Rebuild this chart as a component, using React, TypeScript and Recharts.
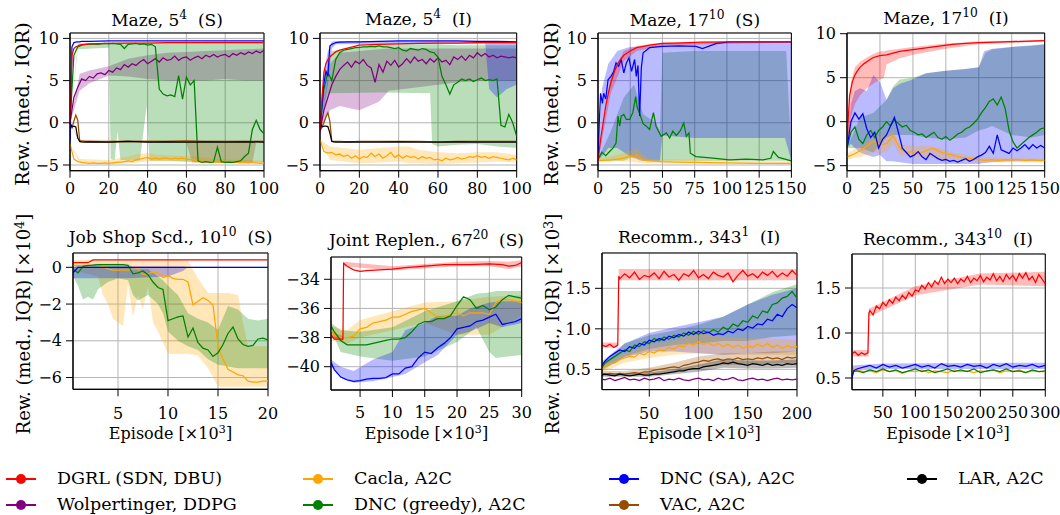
import React from 'react';
import { ComposedChart, Line, Area, XAxis, YAxis, CartesianGrid, ReferenceArea } from 'recharts';

const FONT = '"DejaVu Serif", "DejaVu Sans", sans-serif';
const RED = '#ff0000', PURPLE = '#800080', ORANGE = '#ffa500', GREEN = '#008000', BLUE = '#0000ff', BROWN = '#994c00', BLACK = '#000000';

const xStep2 = [0,2,4,6,8,10,12,14,16,18,20,22,24,26,28,30,32,34,36,38,40,42,44,46,48,50,52,54,56,58,60,62,64,66,68,70,72,74,76,78,80,82,84,86,88,90,92,94,96,98,100];
const xStep3 = [0,3,6,9,12,15,18,21,24,27,30,33,36,39,42,45,48,51,54,57,60,63,66,69,72,75,78,81,84,87,90,93,96,99,102,105,108,111,114,117,120,123,126,129,132,135,138,141,144,147,150];

const p1xA = [0,1,2,3,4,5,6,8,10,20,30,40,50,60,70,80,90,100];
const p1Red = [0,8.0,8.8,9.0,9.1,9.2,9.25,9.3,9.35,9.4,9.45,9.45,9.5,9.5,9.5,9.5,9.5,9.5];
const p1Blue = [-2.2,9.0,9.5,9.55,9.6,9.6,9.65,9.65,9.65,9.7,9.7,9.7,9.7,9.7,9.7,9.7,9.7,9.7];
const p1Black = [0,-0.5,-0.4,-0.5,-1.8,-2.2,-2.25,-2.3,-2.25,-2.3,-2.2,-2.3,-2.25,-2.3,-2.25,-2.3,-2.25,-2.3];
const p1Brown = [0,-0.6,0.2,0.9,0.3,-2.1,-2.15,-2.2,-2.2,-2.25,-2.2,-2.2,-2.2,-2.15,-2.2,-2.2,-2.2,-2.2];
const p1Purple = [0,3.0,4.2,5.2,5.0,5.5,5.3,5.8,5.9,5.7,6.2,6.0,6.5,6.3,6.9,6.6,7.0,6.8,7.2,7.5,7.0,7.3,7.6,7.2,7.7,7.4,7.5,7.9,7.4,7.7,7.8,7.4,7.7,7.9,7.6,8.0,7.8,8.1,7.8,8.0,8.1,7.8,8.2,8.0,8.3,8.1,8.4,8.2,8.5,8.3,8.6];
const p1Green = [0,8.0,9.0,9.2,9.3,9.3,9.35,9.3,9.35,9.4,9.35,9.4,9.35,9.3,8.8,9.3,9.35,9.4,9.3,9.35,9.2,9.3,9.0,4.0,3.4,3.2,3.3,3.1,5.6,2.8,5.4,4.5,5.0,-4.5,-4.7,-4.6,-4.7,-4.65,-2.9,-4.6,-4.7,-4.65,-4.7,-4.6,-4.5,-4.0,-3.6,-0.8,0.3,-0.8,-1.3];
const p1Orange = [-2.5,-4.3,-4.6,-4.7,-4.75,-4.8,-4.75,-4.8,-4.8,-4.75,-4.8,-4.75,-4.7,-4.65,-4.6,-4.5,-4.6,-4.4,-4.3,-4.2,-4.1,-4.3,-4.2,-4.3,-4.2,-4.2,-4.3,-4.2,-4.25,-4.2,-4.3,-4.35,-4.4,-4.5,-4.55,-4.6,-4.65,-4.6,-4.65,-4.7,-4.7,-4.65,-4.7,-4.7,-4.75,-4.7,-4.75,-4.7,-4.75,-4.8,-4.75];
const p1PurpleBX = [0,5,10,20,30,40,50,60,70,80,90,100];
const p1PurpleLo = [0,3.8,4.7,5.6,5.5,5.2,5.0,5.0,5.0,5.2,5.0,5.0];
const p1PurpleHi = [0,5.8,6.2,6.7,7.6,8.0,8.3,8.4,8.5,8.6,8.7,8.8];
const p1GreenBX = [0,4,20,21,23,24.5,26,36,39.5,41,50,60,70,80,90,100];
const p1GreenLo = [0,8.7,8.9,-4.3,-4.4,-1.0,-4.4,-4.5,2.0,-4.5,-4.5,-4.6,-4.7,-4.7,-4.7,-4.7];
const p1GreenHi = [0,9.4,9.5,9.5,9.5,9.5,9.5,9.5,9.5,9.5,9.5,9.5,9.6,9.6,9.6,9.6];
const p1OrangeBX = [0,5,20,30,35,40,45,55,65,75,100];
const p1OrangeLo = [-2.5,-4.8,-4.9,-4.8,-4.7,-4.6,-4.6,-4.6,-4.7,-4.8,-4.8];
const p1OrangeHi = [-2.5,-4.3,-4.4,-4.0,-3.7,-3.6,-3.8,-3.9,-4.0,-4.3,-4.5];
const p1BrownBX = [0,5,60,63,94,96,100];
const p1BrownLo = [0,-2.4,-2.4,-4.7,-4.7,-2.4,-2.4];
const p1BrownHi = [0,-2.0,-2.1,-2.1,-2.1,-2.1,-2.1];

const p2xA = [0,1,2,3,4,5,6,7,8,10,15,20,30,40,50,60,70,80,90,100];
const p2Blue = [-1,2,4.7,6.1,5.5,9.1,9.3,9.4,9.5,9.55,9.6,9.6,9.65,9.7,9.7,9.7,9.7,9.65,9.65,9.6];
const p2Red = [-1,3,6,7,7.5,7.8,8.0,8.2,8.4,8.6,8.9,9.2,9.3,9.35,9.4,9.45,9.45,9.5,9.5,9.5];
const p2Black = [0,-0.5,-0.4,-0.4,-0.45,-1.2,-2.2,-2.25,-2.3,-2.3,-2.25,-2.3,-2.3,-2.25,-2.3,-2.3,-2.25,-2.3,-2.3,-2.3];
const p2Brown = [-1,-0.5,0,0.7,1.2,0.2,-2.2,-2.2,-2.2,-2.2,-2.25,-2.2,-2.2,-2.2,-2.2,-2.25,-2.2,-2.2,-2.2,-2.2];
const p2Purple = [-1,1.5,3.0,4.5,5.5,6.3,6.8,7.2,6.6,7.3,7.0,7.5,6.8,6.5,4.8,6.9,6.0,7.3,6.8,7.4,6.6,7.0,7.6,7.1,7.8,7.3,7.5,7.0,7.6,7.2,7.7,7.2,7.4,6.9,7.8,7.5,7.9,7.4,8.0,7.7,8.3,7.9,8.2,7.8,8.0,7.7,7.9,7.8,7.7,7.8,7.7];
const p2Green = [-0.5,4.0,6.0,5.0,7.5,8.3,8.6,8.7,8.8,8.9,8.95,9.0,9.0,9.05,9.0,9.1,9.0,9.0,8.9,8.8,8.9,8.6,8.5,8.8,8.7,8.6,8.8,8.7,8.4,8.3,7.8,5.5,4.5,3.4,4.5,4.8,5.2,5.0,5.2,4.9,5.1,5.3,5.0,5.1,5.0,5.2,-0.3,-0.5,1.0,0.0,-1.6];
const p2Orange = [-2,-3.4,-3.6,-3.5,-3.8,-3.7,-4.0,-3.8,-4.2,-3.9,-4.3,-4.0,-4.1,-3.6,-4.0,-3.7,-4.2,-3.9,-3.5,-4.1,-3.8,-4.2,-3.9,-4.1,-4.0,-4.3,-4.0,-4.2,-4.1,-4.4,-4.3,-4.5,-4.2,-4.4,-4.3,-4.1,-4.3,-4.2,-4.0,-4.1,-3.9,-4.1,-4.0,-4.2,-4.0,-4.1,-4.2,-4.3,-4.4,-4.2,-4.4];
const p2PurpleBX = [0,5,10,20,30,35,50,70,85,100];
const p2PurpleLo = [-1,1.5,2.0,1.5,2.5,3.8,4.2,4.8,5.0,5.0];
const p2PurpleHi = [-1,7.0,8.3,8.5,8.7,8.8,8.8,8.8,8.8,8.8];
const p2GreenBX = [0,4,6,30,32,56,57,60,70,80,90,100];
const p2GreenLo = [-0.5,3.5,3.5,3.6,3.6,3.5,-2.5,-2.8,-2.6,-2.5,-2.8,-3.0];
const p2GreenHi = [-0.5,7.5,8.5,9.3,9.3,9.3,9.3,9.3,9.2,9.2,9.2,9.2];
const p2BlueBX = [0,2,4,6,8,84,86,90,95,100];
const p2BlueLo = [-1,2,4.5,8.8,9.3,9.4,4.0,3.0,4.0,4.5];
const p2BlueHi = [-1,6,8.5,9.6,9.7,9.7,9.7,9.7,9.7,9.7];
const p2OrangeBX = [0,5,20,30,40,45,50,60,70,80,90,100];
const p2OrangeLo = [-2,-4.4,-4.8,-4.7,-4.6,-4.8,-4.8,-4.9,-4.8,-4.7,-4.6,-4.7];
const p2OrangeHi = [-2,-2.8,-3.2,-3.0,-2.8,-2.8,-3.2,-3.5,-3.6,-3.5,-3.5,-3.8];

const p3RedX = [0,2,4,6,8,10,13,16,20,25,30,40,50,60,80,100,125,150];
const p3Red = [-4.5,-2,0,2,3.5,4.8,6.2,7.2,8.0,8.5,8.9,9.2,9.4,9.45,9.55,9.6,9.6,9.6];
const p3BlueX = [0,1,2,3.4,4.4,6,7.8,10,12,14,16,18,20,22,24,26,28.4,29.7,31,32.3,33.6,35,40,50,63,76,81,92,102,150];
const p3Blue = [-4.5,0,3.5,2.3,3.5,2.8,5.1,5.5,6.0,7.1,6.7,7.5,5.9,7.1,7.7,6.1,7.5,5.5,6.8,0.8,6.5,8.3,8.9,9.05,9.1,9.05,8.8,9.4,9.6,9.6];
const p3GreenX = [0,3,6,9,11.6,14,15.5,16.8,18,20,22,24.6,27,29.2,30.3,32.3,35,37.5,40,43,45,49,53,55.6,58,60.8,64,66.5,68.5,70.6,71.6,76,89,102,115,128,134,136,140,145,150];
const p3Green = [-4.3,-3.5,-3.9,-3.4,-3.0,-2.4,0.8,-0.4,0.8,1.0,0.4,0.4,1.2,3.1,1.9,1.1,-0.1,-0.4,-0.8,1.2,-0.4,-1.6,-1.2,-1.8,-1.0,-1.5,-0.9,0.0,-1.6,-1.2,-3.6,-4.0,-4.2,-4.4,-4.3,-4.4,-4.2,-3.4,-4.1,-4.3,-4.5];
const p3OrangeX = [0,10,15,20,25,28,30,33,35,40,50,60,75,100,125,150];
const p3Orange = [-4.5,-4.4,-4.3,-4.2,-3.9,-4.1,-3.8,-4.2,-4.4,-4.5,-4.6,-4.65,-4.7,-4.75,-4.8,-4.8];
const p3BlueBX = [0,3,8,15,25,33,48,50,75,100,145,150];
const p3BlueLo = [-4.5,-4,-3,-3,-4,-4.5,-4.5,-1.5,-1.8,-1.8,-1.8,-4.5];
const p3BlueHi = [-4.5,4,7,8.5,9,9,9.3,9.4,9.5,9.6,9.6,9.6];
const p3GreenBX = [0,10,20,28,35,45,48,50,75,100,146,150];
const p3GreenLo = [-4.5,-4.5,-4.5,-4.0,-4.5,-4.5,-4.5,-4.5,-4.5,-4.5,-4.5,-4.6];
const p3GreenHi = [-4.3,-1.0,3.0,4.5,1.0,0.0,-1.0,8.3,8.5,8.5,8.5,-4.0];
const p3OrangeBX = [0,15,25,30,35,40,150];
const p3OrangeLo = [-4.6,-4.6,-4.6,-4.7,-4.8,-4.8,-4.9];
const p3OrangeHi = [-4.3,-3.8,-3.3,-3.0,-3.8,-4.3,-4.6];
const p3RedBX = [0,10,20,30,50,150];
const p3RedLo = [-4.5,3.5,7.3,8.5,9.2,9.5];
const p3RedHi = [-4.5,5.5,8.5,9.1,9.5,9.65];

const p4Blue = [-3.0,0.0,1.0,0.3,0.9,-0.8,-1.8,-1.2,-3.0,-2.0,-1.5,-0.5,0.5,-1.2,-3.0,-3.5,-4.0,-3.8,-3.4,-4.0,-4.3,-3.6,-3.9,-4.2,-4.4,-4.3,-4.5,-4.4,-4.6,-4.4,-4.2,-4.5,-4.3,-4.0,-3.8,-3.5,-2.8,-3.6,-1.5,-3.2,-3.4,-3.6,-3.0,-3.3,-3.0,-2.6,-3.1,-2.6,-3.0,-2.7,-3.0];
const p4Green = [-3.0,-1.2,-0.6,-2.0,-2.5,-1.5,-1.0,-1.8,-1.0,-0.6,0.0,-0.5,0.2,-0.2,-0.6,-0.4,-1.0,-1.2,-1.5,-1.4,-1.8,-1.5,-1.2,-1.8,-2.0,-1.7,-2.1,-1.8,-1.4,-1.2,-0.8,-0.6,-0.2,0.3,1.0,1.6,2.3,2.6,1.9,2.8,1.5,-1.0,-2.3,-3.0,-2.6,-2.2,-1.8,-1.5,-1.2,-0.8,-0.7];
const p4OrangeX = [0,5,10,15,20,25,30,35,40,45,50,55,60,65,70,75,80,85,90,95,100,105,110,115,120,125,130,135,140,145,150];
const p4Orange = [-4.0,-3.7,-3.3,-2.8,-2.2,-2.6,-2.5,-1.6,-3.0,-3.5,-3.4,-3.6,-3.3,-3.0,-3.4,-3.6,-3.8,-4.0,-4.1,-4.2,-4.3,-4.4,-4.3,-4.4,-4.3,-4.35,-4.3,-4.4,-4.35,-4.4,-4.4];
const p4RedX = [0,1,2,4,6,8,10,13,17,20,25,30,35,40,50,60,70,80,90,100,125,150];
const p4Red = [-3.0,0.5,3.0,4.5,5.3,5.8,6.2,6.6,7.0,7.3,7.5,7.6,7.8,8.0,8.2,8.4,8.6,8.8,8.9,9.0,9.1,9.2];
const p4RedBX = [0,3,6,10,15,20,25,28,30,40,50,75,100,150];
const p4RedLo = [-3,0.5,2.0,3.0,3.8,4.3,4.8,5.0,6.5,7.2,7.6,8.3,8.8,9.1];
const p4RedHi = [-3,4.5,6.2,6.8,7.3,7.7,8.0,8.0,8.1,8.3,8.5,8.9,9.1,9.3];
const p4BlueBX = [0,3,6,10,15,20,25,30,35,40,50,60,75,90,100,104,110,125,140,150];
const p4BlueLo = [-3,-2.5,-3.0,-3.5,-3.8,-4.0,-3.8,-4.5,-4.5,-4.6,-4.8,-4.8,-4.8,-4.8,-4.8,-4.7,-4.6,-4.5,-4.5,-4.5];
const p4BlueHi = [-3,2.0,3.5,3.8,3.5,5.3,4.5,2.5,3.8,4.3,4.8,5.5,5.8,6.0,6.2,8.0,8.3,8.5,8.7,8.8];
const p4GreenBX = [0,10,20,30,35,40,50,60,75,90,100,105,110,125,140,150];
const p4GreenLo = [-3,-3.0,-3.5,-1.8,-1.5,-1.5,-1.5,-1.8,-2.0,-1.8,-1.0,-0.8,-0.5,-1.5,-1.8,-1.5];
const p4GreenHi = [-3,0.5,1.0,2.5,4.0,4.8,5.0,5.5,5.8,6.0,6.2,7.8,8.2,8.5,8.6,8.8];
const p4OrangeBX = [0,10,20,30,35,40,50,60,70,80,100,150];
const p4OrangeLo = [-4.3,-4.0,-3.5,-3.5,-2.5,-3.8,-4.0,-4.0,-4.2,-4.3,-4.6,-4.6];
const p4OrangeHi = [-3.6,-2.8,-1.8,-1.5,-1.0,-2.5,-2.8,-2.7,-3.0,-3.5,-4.0,-4.2];

const p5X = [0.5,1,1.5,2,2.5,3,3.5,4,4.5,5,5.5,6,6.5,7,7.5,8,8.5,9,9.5,10,10.5,11,11.5,12,12.5,13,13.5,14,14.5,15,15.5,16,16.5,17,17.5,18,18.5,19,19.5,20];
const p5Green = [-0.1,-0.3,0.05,0.1,0.12,0.15,0.15,0.15,0.15,0.15,0.15,0.1,-0.35,-0.3,-0.2,-0.4,-0.8,-1.1,-1.2,-2.9,-2.8,-2.7,-2.65,-3.8,-3.3,-4.1,-4.4,-4.5,-4.85,-4.65,-4.2,-3.6,-3.25,-3.9,-4.2,-4.3,-4.25,-3.9,-3.85,-3.95];
const p5Orange = [0.1,0.1,0.1,0.1,0.1,0.1,0.05,-0.1,-0.15,-0.15,-0.15,-0.15,-0.1,-0.1,-0.4,-0.35,-0.25,-0.3,-0.55,-0.45,-0.6,-0.65,-0.65,-0.8,-2.05,-1.85,-1.65,-1.8,-2.05,-4.3,-5.0,-5.55,-5.7,-5.85,-5.9,-6.2,-6.25,-6.25,-6.2,-6.2];
const p5RedX = [0.5,2,2.5,20];
const p5Red = [0.25,0.25,0.4,0.4];
const p5BlueX = [0.5,1,20];
const p5Blue = [-0.3,0,0];
const p5OrangeBX = [0.5,1.5,3,3.5,4,4.5,5,5.5,6,6.5,7,7.5,8,8.5,9,10,11,12,13,14,14.5,15,16,17,17.5,18,20];
const p5OrangeLo = [-0.2,-0.3,-0.5,-1.5,-2.0,-2.8,-3.0,-3.2,-0.9,-2.7,-1.5,-2.3,-1.0,-3.0,-3.5,-4.7,-4.7,-4.7,-4.8,-5.5,-6.0,-6.5,-6.5,-6.5,-6.5,-6.5,-6.5];
const p5OrangeHi = [0.4,0.4,0.4,0.4,0.4,0.4,0.4,0.4,0.4,0.4,0.4,0.4,0.4,0.4,0.4,0.4,0.4,0.35,-0.6,-1.4,-1.4,-1.4,-1.4,-1.5,-3.0,-4.3,-4.3];
const p5GreenBX = [0.5,1,1.5,2,2.5,3,4,5,6,6.5,7,8,9,9.5,10,11,12,13,14,15,16,17,18,19,20];
const p5GreenLo = [-0.5,-1.0,-1.75,-1.6,-1.75,-1.2,-0.8,-0.6,-0.7,-1.5,-1.8,-1.5,-2.0,-2.5,-3.5,-4.0,-4.3,-4.5,-5.0,-5.3,-5.4,-5.5,-5.5,-5.5,-5.5];
const p5GreenHi = [0.0,0.1,0.1,0.1,0.2,0.2,0.2,0.2,0.2,0.0,-0.1,-0.1,-0.5,-0.7,-1.0,-1.5,-2.5,-2.8,-3.0,-3.4,-2.1,-2.3,-2.8,-2.9,-2.8];
const p5BlueBX = [0.5,1,6,10,11.5,12];
const p5BlueLo = [-0.6,-0.6,-0.6,-0.5,-0.2,0];
const p5BlueHi = [0,0.05,0.05,0.05,0.05,0];

const p6X = [0.5,1,2,3,4,5,6,7,8,9,10,11,12,13,14,15,16,17,18,19,20,21,22,23,24,25,26,27,28,29,30];
const p6RedX = [0.5,1,2,2.35,2.45,3,4,5,6,8,10,12,15,18,20,22,25,27,28,29,30];
const p6Red = [-37.8,-38.1,-38.1,-38.1,-32.9,-33.1,-33.35,-33.45,-33.4,-33.35,-33.3,-33.2,-33.1,-33.0,-33.0,-33.0,-32.95,-33.0,-33.1,-33.05,-32.85];
const p6Orange = [-37.5,-37.8,-38.0,-38.0,-37.9,-37.4,-37.3,-37.0,-36.9,-36.8,-36.6,-36.6,-36.4,-36.2,-36.1,-36.0,-36.3,-36.6,-36.6,-36.4,-36.3,-36.5,-36.3,-36.3,-36.3,-36.4,-35.6,-35.4,-35.4,-35.5,-35.6];
const p6Green = [-37.2,-37.6,-38.2,-38.5,-38.5,-38.5,-38.5,-38.4,-38.3,-38.2,-38.1,-38.1,-38.0,-37.6,-37.1,-36.9,-36.9,-36.7,-36.7,-36.5,-35.8,-35.2,-35.4,-36.0,-35.8,-36.1,-35.9,-35.4,-35.1,-35.2,-35.3];
const p6Blue = [-39.7,-40.2,-40.7,-40.9,-41.0,-40.95,-40.85,-40.8,-40.8,-40.75,-40.5,-40.5,-40.1,-40.0,-39.4,-39.0,-39.1,-38.7,-38.4,-38.0,-37.4,-37.3,-37.2,-36.9,-36.8,-36.6,-36.4,-37.1,-37.0,-36.9,-36.7];
const p6RedBX = [0.5,2.35,2.45,10,20,25,28,30];
const p6RedLo = [-38.0,-38.3,-33.1,-33.4,-33.1,-33.1,-33.3,-33.1];
const p6RedHi = [-37.6,-37.9,-32.8,-33.1,-32.8,-32.75,-32.8,-32.7];
const p6OrangeBX = [0.5,3,5,10,15,20,25,30];
const p6OrangeLo = [-38.2,-38.4,-38.0,-37.5,-37.0,-37.8,-37.8,-36.5];
const p6OrangeHi = [-37.2,-37.5,-36.8,-36.2,-35.6,-35.5,-35.2,-35.1];
const p6GreenBX = [0.5,2,5,10,15,20,23,25,26,30];
const p6GreenLo = [-37.5,-39.0,-39.3,-39.6,-39.3,-38.3,-37.3,-39.0,-39.4,-39.2];
const p6GreenHi = [-37.0,-37.5,-37.6,-37.3,-36.2,-35.5,-35.0,-34.9,-34.8,-34.8];
const p6BlueBX = [0.5,2,4,7,10,12,15,17,20,22,25,27,30];
const p6BlueLo = [-40.0,-40.6,-41.1,-41.0,-40.7,-40.5,-39.7,-39.2,-37.8,-37.6,-37.0,-37.3,-37.0];
const p6BlueHi = [-39.5,-40.0,-40.3,-39.5,-39.0,-37.5,-37.0,-36.5,-36.5,-36.0,-35.6,-35.5,-35.5];

const p7X = [2,5,10,15,20,25,30,35,40,45,50,55,60,65,70,75,80,85,90,95,100,105,110,115,120,125,130,135,140,145,150,155,160,165,170,175,180,185,190,195,200];
const p7RedX = [2,6,10,14,18,19,20,25,30,35,40,45,50,55,60,65,70,75,80,85,90,95,100,105,110,115,120,125,130,135,140,145,150,155,160,165,170,175,180,185,190,195,200];
const p7Red = [0.80,0.78,0.81,0.77,0.80,1.65,1.62,1.68,1.63,1.70,1.61,1.66,1.64,1.69,1.62,1.71,1.64,1.67,1.60,1.68,1.65,1.72,1.63,1.67,1.62,1.70,1.66,1.64,1.69,1.58,1.66,1.72,1.65,1.68,1.63,1.70,1.66,1.71,1.64,1.69,1.65,1.72,1.66];
const p7Green = [0.52,0.58,0.62,0.66,0.70,0.74,0.72,0.80,0.78,0.84,0.82,0.88,0.85,0.90,0.87,0.92,0.90,0.95,0.92,0.97,0.93,0.98,0.95,0.99,0.96,1.02,0.99,1.06,1.03,1.10,1.08,1.16,1.13,1.22,1.20,1.30,1.32,1.38,1.40,1.46,1.38];
const p7Blue = [0.55,0.60,0.66,0.70,0.74,0.72,0.78,0.76,0.82,0.80,0.86,0.84,0.88,0.86,0.91,0.89,0.93,0.91,0.96,0.93,0.97,0.94,0.96,0.92,0.94,0.93,0.97,0.95,1.00,0.98,1.03,1.01,1.06,1.05,1.12,1.10,1.18,1.15,1.25,1.30,1.26];
const p7Orange = [0.50,0.54,0.57,0.58,0.62,0.64,0.66,0.65,0.70,0.68,0.72,0.70,0.74,0.73,0.77,0.75,0.79,0.78,0.82,0.80,0.84,0.81,0.83,0.79,0.82,0.78,0.81,0.77,0.80,0.76,0.79,0.77,0.81,0.78,0.82,0.77,0.80,0.76,0.79,0.77,0.78];
const p7Brown = [0.45,0.44,0.45,0.44,0.45,0.44,0.45,0.46,0.45,0.47,0.47,0.49,0.50,0.51,0.52,0.53,0.52,0.55,0.56,0.58,0.59,0.61,0.60,0.62,0.63,0.61,0.63,0.62,0.64,0.62,0.63,0.62,0.64,0.63,0.65,0.63,0.64,0.62,0.65,0.64,0.65];
const p7Black = [0.43,0.44,0.43,0.42,0.44,0.43,0.42,0.43,0.44,0.43,0.43,0.44,0.44,0.45,0.46,0.47,0.48,0.48,0.50,0.51,0.51,0.53,0.54,0.55,0.56,0.58,0.57,0.59,0.57,0.56,0.55,0.57,0.56,0.55,0.57,0.55,0.56,0.55,0.57,0.56,0.57];
const p7Purple = [0.38,0.37,0.39,0.36,0.38,0.40,0.37,0.38,0.36,0.39,0.37,0.38,0.40,0.36,0.38,0.37,0.39,0.37,0.36,0.38,0.39,0.37,0.38,0.36,0.39,0.37,0.38,0.40,0.37,0.36,0.38,0.39,0.37,0.38,0.36,0.38,0.39,0.37,0.38,0.37,0.38];
const p7BX = [2,25,50,75,100,125,150,175,200];
const p7GreenLo = [0.48,0.66,0.75,0.80,0.82,0.85,0.85,0.90,0.92];
const p7GreenHi = [0.56,0.82,0.92,0.98,1.05,1.15,1.30,1.45,1.55];
const p7BlueLo = [0.50,0.65,0.72,0.72,0.70,0.68,0.70,0.70,0.72];
const p7BlueHi = [0.60,0.82,0.95,1.02,1.08,1.15,1.30,1.42,1.50];
const p7OrangeLo = [0.46,0.58,0.64,0.68,0.70,0.68,0.68,0.68,0.68];
const p7OrangeHi = [0.54,0.70,0.80,0.86,0.95,0.90,0.88,0.88,0.86];
const p7BrownLo = [0.42,0.42,0.43,0.48,0.53,0.55,0.56,0.57,0.58];
const p7BrownHi = [0.48,0.48,0.52,0.58,0.66,0.70,0.70,0.72,0.72];
const p7BlackLo = [0.41,0.41,0.41,0.44,0.47,0.52,0.51,0.51,0.52];
const p7BlackHi = [0.45,0.45,0.46,0.50,0.56,0.62,0.61,0.61,0.62];
const p7RedBX = [2,18,19,200];
const p7RedLo = [0.77,0.77,1.60,1.60];
const p7RedHi = [0.83,0.83,1.74,1.74];

const p8RedX = [2.5,7,12,17,22,27,28.5,30,35,40,45,50,55,60,65,70,75,80,85,90,95,100,105,110,115,120,125,130,135,140,145,150,155,160,165,170,175,180,185,190,195,200,205,210,215,220,225,230,235,240,245,250,255,260,265,270,275,280,285,290,295,300];
const p8Red = [0.77,0.79,0.75,0.78,0.76,0.78,1.22,1.25,1.20,1.30,1.27,1.34,1.30,1.37,1.33,1.40,1.36,1.42,1.38,1.45,1.41,1.48,1.46,1.53,1.49,1.56,1.51,1.58,1.54,1.62,1.55,1.60,1.56,1.61,1.55,1.60,1.57,1.63,1.56,1.61,1.58,1.64,1.57,1.62,1.59,1.66,1.58,1.63,1.57,1.65,1.60,1.64,1.58,1.66,1.61,1.67,1.59,1.63,1.56,1.65,1.60,1.55];
const p8X = [2.5,5,10,20,30,40,50,60,70,80,90,100,110,120,130,140,150,160,170,180,190,200,210,220,230,240,250,260,270,280,290,300];
const p8Blue = [0.50,0.58,0.60,0.62,0.64,0.61,0.65,0.62,0.64,0.61,0.63,0.65,0.62,0.64,0.61,0.66,0.63,0.64,0.62,0.65,0.63,0.64,0.61,0.65,0.63,0.66,0.62,0.64,0.63,0.65,0.62,0.64];
const p8Green = [0.52,0.57,0.58,0.56,0.59,0.57,0.60,0.57,0.59,0.56,0.58,0.60,0.57,0.59,0.56,0.58,0.60,0.57,0.59,0.57,0.60,0.56,0.58,0.59,0.57,0.60,0.57,0.58,0.56,0.59,0.57,0.58];
const p8Orange = [0.55,0.60,0.59,0.57,0.58,0.56,0.59,0.57,0.58,0.55,0.58,0.57,0.59,0.56,0.58,0.57,0.56,0.59,0.57,0.58,0.56,0.58,0.57,0.59,0.56,0.58,0.57,0.59,0.56,0.58,0.57,0.57];
const p8RedBX = [2.5,28,28.5,100,200,300];
const p8RedLo = [0.74,0.74,1.18,1.42,1.54,1.52];
const p8RedHi = [0.81,0.81,1.27,1.52,1.66,1.68];
const p8BlueBX = [2.5,50,300];
const p8BlueLo = [0.58,0.60,0.60];
const p8BlueHi = [0.64,0.66,0.67];

const ticksMazeY = [-5,0,5,10];
const ticks100 = [0,20,40,60,80,100];
const ticks150 = [0,25,50,75,100,125,150];
const ticksJobX = [5,10,15,20];
const ticksJobY = [-6,-4,-2,0];
const ticksJointX = [5,10,15,20,25,30];
const ticksJointY = [-40,-38,-36,-34];
const ticksRec1X = [50,100,150,200];
const ticksRec10X = [50,100,150,200,250,300];
const ticksRecY = [0.5,1.0,1.5];

const legendItems = [
  { label: 'DGRL (SDN, DBU)', color: RED, col: 0, row: 0 },
  { label: 'Wolpertinger, DDPG', color: PURPLE, col: 0, row: 1 },
  { label: 'Cacla, A2C', color: ORANGE, col: 1, row: 0 },
  { label: 'DNC (greedy), A2C', color: GREEN, col: 1, row: 1 },
  { label: 'DNC (SA), A2C', color: BLUE, col: 2, row: 0 },
  { label: 'VAC, A2C', color: BROWN, col: 2, row: 1 },
  { label: 'LAR, A2C', color: BLACK, col: 3, row: 0 },
];

const pts = (xs: number[], ys: number[]) => xs.map((x, i) => ({ x, y: ys[i] }));
const rng = (xs: number[], lo: number[], hi: number[]) => xs.map((x, i) => ({ x, r: [lo[i], hi[i]] }));

type S = { color: string; data: any[] };
type PanelProps = {
  x: number; y: number; w: number; h: number;
  xd: [number, number]; yd: [number, number];
  xt: number[]; yt: number[];
  yf?: (v: number) => string;
  xTickGap?: number;
  bands: S[]; lines: S[];
};

function Panel(p: PanelProps) {
  const padL = 66, padR = 30, padT = 14, padB = 42;
  const W = p.w + padL + padR, H = p.h + padT + padB;
  const fmt = (v: number) => (p.yf ? p.yf(v) : String(v)).replace('-', '\u2212');
  const tickStyle = { fontFamily: FONT, fontSize: 16, fill: '#000' };
  return (
    <div style={{ position: 'absolute', left: p.x - padL, top: p.y - padT, width: W, height: H }}>
      <ComposedChart width={W} height={H} margin={{ top: padT, right: padR, bottom: 0, left: 0 }}>
        <CartesianGrid stroke="#b4b4b4" strokeWidth={1} />
        <XAxis type="number" dataKey="x" domain={p.xd} ticks={p.xt} height={padB} tick={tickStyle}
          tickSize={7} tickMargin={p.xTickGap ?? 5} axisLine={{ stroke: '#000' }} tickLine={{ stroke: '#000' }}
          allowDataOverflow interval={0} tickFormatter={(v: number) => String(v)} />
        <YAxis type="number" domain={p.yd} ticks={p.yt} width={padL} tick={tickStyle}
          tickSize={7} tickMargin={4} axisLine={{ stroke: '#000' }} tickLine={{ stroke: '#000' }}
          allowDataOverflow interval={0} tickFormatter={fmt} />
        {p.bands.map((b, i) => (
          <Area key={'b' + i} data={b.data} dataKey="r" type="linear" stroke="none" fill={b.color}
            fillOpacity={0.27} isAnimationActive={false} dot={false} activeDot={false} />
        ))}
        {p.lines.map((l, i) => (
          <Line key={'l' + i} data={l.data} dataKey="y" type="linear" stroke={l.color} strokeWidth={1.25}
            dot={false} activeDot={false} isAnimationActive={false} />
        ))}
        <ReferenceArea x1={p.xd[0]} x2={p.xd[1]} y1={p.yd[0]} y2={p.yd[1]} fill="none" fillOpacity={0}
          stroke="#000" strokeWidth={1} ifOverflow="visible" />
      </ComposedChart>
    </div>
  );
}

const supS: React.CSSProperties = { fontSize: '0.72em', verticalAlign: '0.5em', lineHeight: 0 };

function T({ x, y, size = 17, rotate = false, children }: { x: number; y: number; size?: number; rotate?: boolean; children: React.ReactNode }) {
  return (
    <div style={{
      position: 'absolute', left: x, top: y,
      transform: rotate ? 'translate(-50%,-50%) rotate(-90deg)' : 'translate(-50%,-50%)',
      whiteSpace: 'nowrap', fontSize: size, lineHeight: 1, fontFamily: FONT, color: '#000',
    }}>{children}</div>
  );
}

const recFmt = (v: number) => v.toFixed(1);

export default function App() {
  const legendCols = [6, 303, 609, 907];
  const legendRows = [479, 505];
  return (
    <div style={{ position: 'absolute', left: 0, top: 0, width: 1060, height: 515, background: '#fff', overflow: 'hidden', fontFamily: FONT }}>
      <Panel x={70} y={33.3} w={194} h={137.7} xd={[0, 100]} yd={[-5.675, 10.64]} xt={ticks100} yt={ticksMazeY}
        bands={[
          { color: PURPLE, data: rng(p1PurpleBX, p1PurpleLo, p1PurpleHi) },
          { color: GREEN, data: rng(p1GreenBX, p1GreenLo, p1GreenHi) },
          { color: ORANGE, data: rng(p1OrangeBX, p1OrangeLo, p1OrangeHi) },
          { color: BROWN, data: rng(p1BrownBX, p1BrownLo, p1BrownHi) },
        ]}
        lines={[
          { color: PURPLE, data: pts(xStep2, p1Purple) },
          { color: ORANGE, data: pts(xStep2, p1Orange) },
          { color: GREEN, data: pts(xStep2, p1Green) },
          { color: BROWN, data: pts(p1xA, p1Brown) },
          { color: BLACK, data: pts(p1xA, p1Black) },
          { color: BLUE, data: pts(p1xA, p1Blue) },
          { color: RED, data: pts(p1xA, p1Red) },
        ]} />
      <Panel x={320} y={33.3} w={196.7} h={137.7} xd={[0, 100]} yd={[-5.675, 10.64]} xt={ticks100} yt={ticksMazeY}
        bands={[
          { color: PURPLE, data: rng(p2PurpleBX, p2PurpleLo, p2PurpleHi) },
          { color: GREEN, data: rng(p2GreenBX, p2GreenLo, p2GreenHi) },
          { color: BLUE, data: rng(p2BlueBX, p2BlueLo, p2BlueHi) },
          { color: ORANGE, data: rng(p2OrangeBX, p2OrangeLo, p2OrangeHi) },
        ]}
        lines={[
          { color: PURPLE, data: pts(xStep2, p2Purple) },
          { color: ORANGE, data: pts(xStep2, p2Orange) },
          { color: GREEN, data: pts(xStep2, p2Green) },
          { color: BROWN, data: pts(p2xA, p2Brown) },
          { color: BLACK, data: pts(p2xA, p2Black) },
          { color: BLUE, data: pts(p2xA, p2Blue) },
          { color: RED, data: pts(p2xA, p2Red) },
        ]} />
      <Panel x={598.3} y={33.3} w={193.4} h={137.7} xd={[0, 150]} yd={[-5.675, 10.64]} xt={ticks150} yt={ticksMazeY}
        bands={[
          { color: GREEN, data: rng(p3GreenBX, p3GreenLo, p3GreenHi) },
          { color: BLUE, data: rng(p3BlueBX, p3BlueLo, p3BlueHi) },
          { color: ORANGE, data: rng(p3OrangeBX, p3OrangeLo, p3OrangeHi) },
          { color: RED, data: rng(p3RedBX, p3RedLo, p3RedHi) },
        ]}
        lines={[
          { color: ORANGE, data: pts(p3OrangeX, p3Orange) },
          { color: GREEN, data: pts(p3GreenX, p3Green) },
          { color: BLUE, data: pts(p3BlueX, p3Blue) },
          { color: RED, data: pts(p3RedX, p3Red) },
        ]} />
      <Panel x={847.3} y={33} w={197.7} h={137.7} xd={[0, 150]} yd={[-5.57, 10.08]} xt={ticks150} yt={ticksMazeY}
        bands={[
          { color: GREEN, data: rng(p4GreenBX, p4GreenLo, p4GreenHi) },
          { color: BLUE, data: rng(p4BlueBX, p4BlueLo, p4BlueHi) },
          { color: ORANGE, data: rng(p4OrangeBX, p4OrangeLo, p4OrangeHi) },
          { color: RED, data: rng(p4RedBX, p4RedLo, p4RedHi) },
        ]}
        lines={[
          { color: ORANGE, data: pts(p4OrangeX, p4Orange) },
          { color: GREEN, data: pts(xStep3, p4Green) },
          { color: BLUE, data: pts(xStep3, p4Blue) },
          { color: RED, data: pts(p4RedX, p4Red) },
        ]} />

      <Panel x={73.3} y={253} w={195} h={136.3} xd={[0.5, 20]} yd={[-6.64, 0.78]} xt={ticksJobX} yt={ticksJobY} xTickGap={11}
        bands={[
          { color: ORANGE, data: rng(p5OrangeBX, p5OrangeLo, p5OrangeHi) },
          { color: GREEN, data: rng(p5GreenBX, p5GreenLo, p5GreenHi) },
          { color: BLUE, data: rng(p5BlueBX, p5BlueLo, p5BlueHi) },
        ]}
        lines={[
          { color: ORANGE, data: pts(p5X, p5Orange) },
          { color: GREEN, data: pts(p5X, p5Green) },
          { color: BLUE, data: pts(p5BlueX, p5Blue) },
          { color: RED, data: pts(p5RedX, p5Red) },
        ]} />
      <Panel x={331} y={257} w={190.7} h={133} xd={[0.5, 30]} yd={[-41.6, -32.47]} xt={ticksJointX} yt={ticksJointY} xTickGap={10}
        bands={[
          { color: ORANGE, data: rng(p6OrangeBX, p6OrangeLo, p6OrangeHi) },
          { color: GREEN, data: rng(p6GreenBX, p6GreenLo, p6GreenHi) },
          { color: BLUE, data: rng(p6BlueBX, p6BlueLo, p6BlueHi) },
          { color: RED, data: rng(p6RedBX, p6RedLo, p6RedHi) },
        ]}
        lines={[
          { color: ORANGE, data: pts(p6X, p6Orange) },
          { color: GREEN, data: pts(p6X, p6Green) },
          { color: BLUE, data: pts(p6X, p6Blue) },
          { color: RED, data: pts(p6RedX, p6Red) },
        ]} />
      <Panel x={601.7} y={252.7} w={195} h={136.6} xd={[2, 200]} yd={[0.25, 1.936]} xt={ticksRec1X} yt={ticksRecY} yf={recFmt} xTickGap={11}
        bands={[
          { color: GREEN, data: rng(p7BX, p7GreenLo, p7GreenHi) },
          { color: BLUE, data: rng(p7BX, p7BlueLo, p7BlueHi) },
          { color: ORANGE, data: rng(p7BX, p7OrangeLo, p7OrangeHi) },
          { color: BROWN, data: rng(p7BX, p7BrownLo, p7BrownHi) },
          { color: BLACK, data: rng(p7BX, p7BlackLo, p7BlackHi) },
          { color: RED, data: rng(p7RedBX, p7RedLo, p7RedHi) },
        ]}
        lines={[
          { color: PURPLE, data: pts(p7X, p7Purple) },
          { color: BROWN, data: pts(p7X, p7Brown) },
          { color: BLACK, data: pts(p7X, p7Black) },
          { color: ORANGE, data: pts(p7X, p7Orange) },
          { color: GREEN, data: pts(p7X, p7Green) },
          { color: BLUE, data: pts(p7X, p7Blue) },
          { color: RED, data: pts(p7RedX, p7Red) },
        ]} />
      <Panel x={851.7} y={254.3} w={193.3} h={135.7} xd={[2.5, 300]} yd={[0.37, 1.878]} xt={ticksRec10X} yt={ticksRecY} yf={recFmt} xTickGap={10}
        bands={[
          { color: BLUE, data: rng(p8BlueBX, p8BlueLo, p8BlueHi) },
          { color: RED, data: rng(p8RedBX, p8RedLo, p8RedHi) },
        ]}
        lines={[
          { color: ORANGE, data: pts(p8X, p8Orange) },
          { color: GREEN, data: pts(p8X, p8Green) },
          { color: BLUE, data: pts(p8X, p8Blue) },
          { color: RED, data: pts(p8RedX, p8Red) },
        ]} />

      <T x={167} y={20}>Maze, 5<sup style={supS}>4</sup>&nbsp; (S)</T>
      <T x={418.5} y={18.5}>Maze, 5<sup style={supS}>4</sup>&nbsp; (I)</T>
      <T x={695} y={20}>Maze, 17<sup style={supS}>10</sup>&nbsp; (S)</T>
      <T x={946} y={18}>Maze, 17<sup style={supS}>10</sup>&nbsp; (I)</T>
      <T x={170.5} y={237}>Job Shop Scd., 10<sup style={supS}>10</sup>&nbsp; (S)</T>
      <T x={426.5} y={240}>Joint Replen., 67<sup style={supS}>20</sup>&nbsp; (S)</T>
      <T x={699} y={237}>Recomm., 343<sup style={supS}>1</sup>&nbsp; (I)</T>
      <T x={948} y={239}>Recomm., 343<sup style={supS}>10</sup>&nbsp; (I)</T>

      <T x={21.5} y={104} size={19} rotate>Rew. (med., IQR)</T>
      <T x={551} y={104} size={19} rotate>Rew. (med., IQR)</T>
      <T x={24} y={324} size={18} rotate>Rew. (med., IQR) [×10<sup style={supS}>4</sup>]</T>
      <T x={553} y={324} size={18} rotate>Rew. (med., IQR) [×10<sup style={supS}>3</sup>]</T>

      <T x={170.5} y={434} size={16}>Episode [×10<sup style={supS}>3</sup>]</T>
      <T x={426.5} y={434} size={16}>Episode [×10<sup style={supS}>3</sup>]</T>
      <T x={699} y={434} size={16}>Episode [×10<sup style={supS}>3</sup>]</T>
      <T x={948} y={434} size={16}>Episode [×10<sup style={supS}>3</sup>]</T>

      {legendItems.map((it) => {
        const lx = legendCols[it.col];
        const ly = legendRows[it.row];
        return (
          <div key={it.label} style={{ position: 'absolute', left: lx, top: ly - 9, height: 18, display: 'flex', alignItems: 'center' }}>
            <svg width={30} height={16} style={{ display: 'block' }}>
              <line x1={0} y1={8} x2={30} y2={8} stroke={it.color} strokeWidth={2} />
              <circle cx={15} cy={8} r={5} fill={it.color} />
            </svg>
            <span style={{ marginLeft: 21, fontSize: 17.5, fontFamily: FONT, whiteSpace: 'nowrap', lineHeight: 1 }}>{it.label}</span>
          </div>
        );
      })}
    </div>
  );
}
